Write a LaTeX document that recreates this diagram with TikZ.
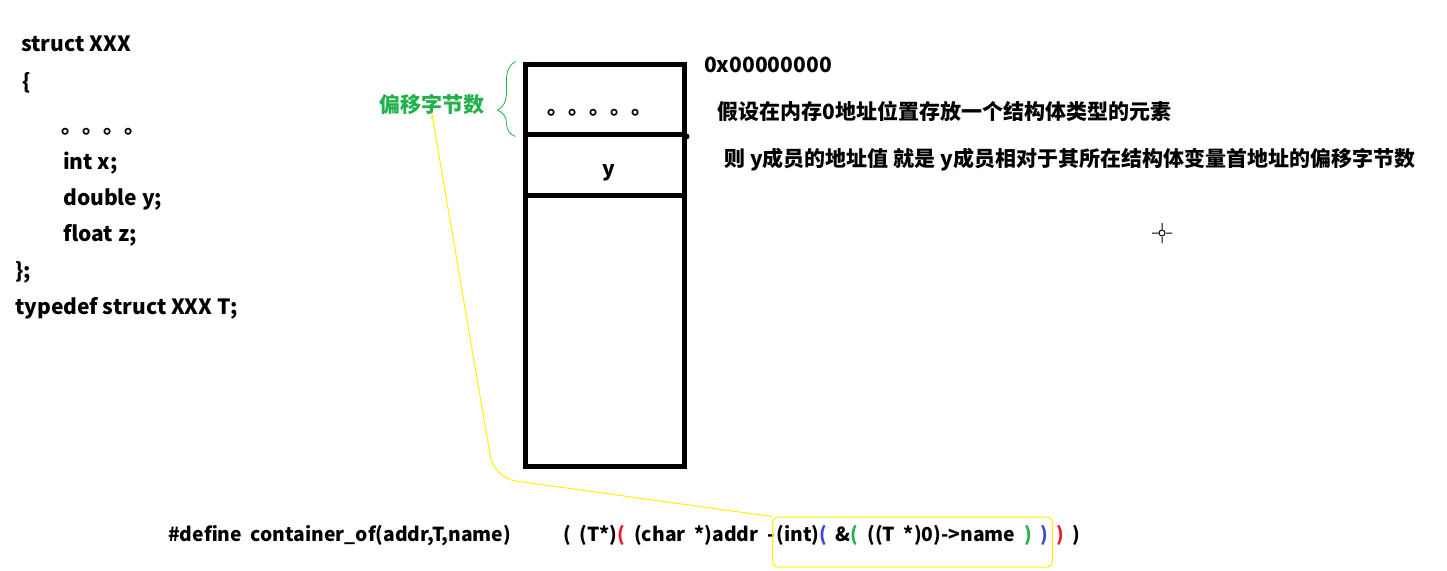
\documentclass[tikz,border=0pt]{standalone}
\usepackage{fontspec}
\setmainfont{Noto Sans CJK SC}
\usepackage{xcolor}
\usetikzlibrary{arrows.meta,positioning,calc,decorations.pathreplacing}
\definecolor{pgreen}{RGB}{34,177,76}
\definecolor{pred}{RGB}{237,28,36}
\definecolor{pblue}{RGB}{63,72,204}
\definecolor{pyellow}{RGB}{255,242,0}
\newcommand\macrofont{\fontsize{19.3}{23}\selectfont\bfseries\spaceskip=8.8pt\relax}

\begin{document}
\begin{tikzpicture}[x=1pt, y=-1pt,
  txt/.style={inner sep=0pt, anchor=base west, font=\fontsize{21}{24}\selectfont\bfseries},
  macro/.style={inner sep=0pt, anchor=base west, font=\macrofont},
  cell/.style={draw, line width=5pt, minimum width=159pt, inner sep=0pt},
  hilite/.style={draw=pyellow, line width=1pt, rounded corners=6pt},
  bracepen/.style={draw=pgreen, line width=0.8pt, decorate},
]
\useasboundingbox (0,0) rectangle (1447,570);
% struct declaration
\node[txt] (s1) at (21,51) {struct XXX};
\node[txt] (s2) at (22,89) {\{};
\node[txt] (s3) at (61,133) {。。。。};
\node[txt] (s4) at (63,169) {int x;};
\node[txt] (s5) at (63,205) {double y;};
\node[txt] (s6) at (63,241) {float z;};
\node[txt] (s7) at (15,278) {\};};
\node[txt] (s8) at (15,314) {typedef struct XXX T;};
% memory block
\node[cell, minimum height=70pt] (cellA) at (604.5,99) {};
\node[cell, minimum height=61pt] (cellY) at (604.5,164.5) {};
\node[cell, minimum height=271pt] (cellRest) at (604.5,330.5) {};
\node[txt, anchor=base] (yname) at (609,176) {y};
\node[txt] (dots) at (547,114) {。。。。。};
\fill (cellA.south east) circle (3pt);
\node[txt] (addr0) at (704,72) {0x00000000};
\node[txt] (note1) at (717,119) {假设在内存0地址位置存放一个结构体类型的元素};
\node[txt] (note2) at (724,166) {则 y成员的地址值 就是 y成员相对于其所在结构体变量首地址的偏移字节数};
% offset brace
\node[txt, anchor=center, text=pgreen] (offlabel) at (432,104) {偏移字节数};
\draw[bracepen, decoration={brace, amplitude=18pt, aspect=0.35}]
  ([xshift=-7pt]cellA.south west) -- ([xshift=-7pt]cellA.north west);
% macro
\node[macro] (defhead) at (168,541) {\#define container\_of(addr,T,name)};
\node[macro] (defbody) at (563,541) {( (T*)\textcolor{pred}{(} (char *)addr -};
\node[macro, hilite, inner xsep=4pt, inner ysep=0pt, text height=24pt, text depth=26pt]
  (offexpr) at (772,541) {(int)\textcolor{pblue}{(} \&\textcolor{pgreen}{(} ((T *)0)->name \textcolor{pgreen}{)} \textcolor{pblue}{)}};
\node[macro] (deftail) at ([xshift=3pt]offexpr.base east) {\textcolor{pred}{)} )};
\coordinate (bend) at (494,478);
\draw[pyellow, line width=1pt, rounded corners=22pt, -{Stealth[length=5pt,width=4pt]}]
  (offexpr.north west) -- (bend) -- (offlabel.south);
% cursor
\coordinate (cursor) at (1162,233);
\draw[line width=1pt] (cursor) circle (3pt)
  ($(cursor)+(-10,0)$) -- ($(cursor)+(-4,0)$)
  ($(cursor)+(4,0)$) -- ($(cursor)+(10,0)$)
  ($(cursor)+(0,-10)$) -- ($(cursor)+(0,-4)$)
  ($(cursor)+(0,4)$) -- ($(cursor)+(0,10)$);
\end{tikzpicture}
\end{document}
